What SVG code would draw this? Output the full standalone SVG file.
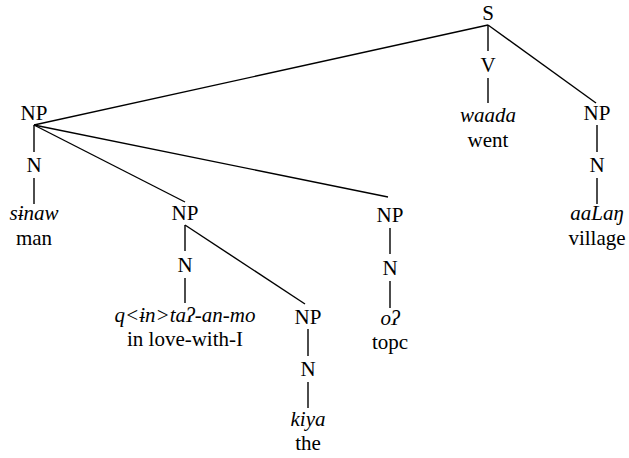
<svg xmlns="http://www.w3.org/2000/svg" width="629" height="458" viewBox="0 0 629 458">
<style>
.t{font-family:'Liberation Serif','Times New Roman',serif;font-size:21px;fill:#000;text-anchor:middle}
.w{font-style:italic}
#edges line{stroke:#000;stroke-width:1.4}
</style>
<rect width="629" height="458" fill="#fff"/>
<g id="edges">
<line x1="488" y1="25" x2="488" y2="51"/>
<line x1="488" y1="78" x2="488" y2="103"/>
<line x1="488" y1="25" x2="34" y2="125"/>
<line x1="488" y1="25" x2="596" y2="103"/>
<line x1="597" y1="125" x2="597" y2="152"/>
<line x1="597" y1="178" x2="597" y2="204"/>
<line x1="34" y1="125" x2="34" y2="152"/>
<line x1="34" y1="178" x2="34" y2="204"/>
<line x1="34" y1="125" x2="185" y2="202"/>
<line x1="34" y1="125" x2="388" y2="197"/>
<line x1="185" y1="225" x2="185" y2="251"/>
<line x1="185" y1="225" x2="305" y2="304"/>
<line x1="185" y1="278" x2="185" y2="303"/>
<line x1="390" y1="228" x2="390" y2="254"/>
<line x1="390" y1="281" x2="390" y2="308"/>
<line x1="308" y1="329" x2="308" y2="356"/>
<line x1="308" y1="382" x2="308" y2="408"/>
</g>
<g class="t">
<g id="S"><text x="488" y="20">S</text></g>
<g id="V"><text x="488" y="72">V</text></g>
<g id="waada"><text class="w" x="488" y="122">waada</text><text x="488" y="147">went</text></g>
<g id="NP1"><text x="34" y="120">NP</text></g>
<g id="N1"><text x="34" y="172">N</text></g>
<g id="sinaw"><text class="w" x="34" y="220">sɨnaw</text><text x="34" y="245">man</text></g>
<g id="NP2"><text x="597" y="120">NP</text></g>
<g id="N2"><text x="597" y="172">N</text></g>
<g id="aalang"><text class="w" x="597" y="220">aaLaŋ</text><text x="597" y="245">village</text></g>
<g id="NP3"><text x="185" y="220">NP</text></g>
<g id="N3"><text x="185" y="272">N</text></g>
<g id="qintaq"><text class="w" x="185" y="322">q&lt;ɨn&gt;taʔ-an-mo</text><text x="185" y="346">in love-with-I</text></g>
<g id="NP4"><text x="390" y="222">NP</text></g>
<g id="N4"><text x="390" y="275">N</text></g>
<g id="oq"><text class="w" x="390" y="325">oʔ</text><text x="390" y="349">topc</text></g>
<g id="NP5"><text x="308" y="324">NP</text></g>
<g id="N5"><text x="308" y="376">N</text></g>
<g id="kiya"><text class="w" x="308" y="426">kiya</text><text x="308" y="450">the</text></g>
</g>
</svg>
